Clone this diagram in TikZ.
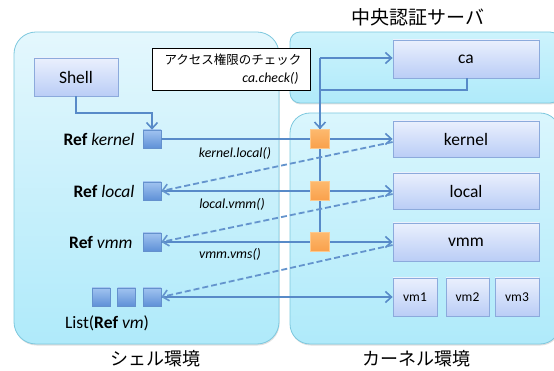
\documentclass[tikz,border=0pt]{standalone}
\usepackage{fontspec}
\setmainfont{Carlito}
\newfontfamily\jp{Noto Sans CJK JP}
\usetikzlibrary{arrows.meta,shadows,calc}
\definecolor{lineblue}{RGB}{88,138,200}
\definecolor{dashblue}{RGB}{100,148,205}
\definecolor{envborder}{RGB}{125,200,222}
\definecolor{boxborder}{RGB}{140,170,220}
\definecolor{sqborder}{RGB}{100,145,205}
\definecolor{envbot}{RGB}{175,234,250}
\definecolor{envtopA}{RGB}{228,247,253}
\definecolor{envtopB}{RGB}{205,243,252}
\definecolor{envtopC}{RGB}{218,246,253}
\definecolor{boxtop}{RGB}{234,240,253}
\definecolor{boxbot}{RGB}{186,205,246}
\definecolor{sqtop}{RGB}{160,195,240}
\definecolor{sqbot}{RGB}{95,145,215}
\definecolor{ortop}{RGB}{253,185,110}
\definecolor{orbot}{RGB}{249,160,75}
\definecolor{orborder}{RGB}{252,200,140}
\tikzset{
  env/.style={draw=envborder, line width=0.8pt, top color=#1, bottom color=envbot,
    drop shadow={shadow xshift=0.6pt, shadow yshift=-1.5pt, opacity=0.25}},
  objbox/.style={draw=boxborder, line width=0.8pt, top color=boxtop,
    bottom color=boxbot, minimum height=38pt, inner sep=0pt,
    font=\fontsize{17.5}{20}\selectfont,
    drop shadow={shadow xshift=0.6pt, shadow yshift=-1.2pt, opacity=0.25}},
  refsq/.style={draw=sqborder, line width=0.6pt, top color=sqtop,
    bottom color=sqbot, minimum size=18pt, inner sep=0pt},
  orsq/.style={draw=orborder, line width=0.6pt, top color=ortop,
    bottom color=orbot, minimum size=19pt, inner sep=0pt},
  conn/.style={draw=lineblue, line width=1.8pt},
  arr/.style={conn, -{Straight Barb[length=6pt,width=11pt,line width=1.6pt]}},
  darr/.style={draw=dashblue, line width=1.8pt, dash pattern=on 6pt off 3pt, -{Straight Barb[length=6pt,width=11pt,line width=1.6pt]}},
  reflabel/.style={anchor=east, font=\fontsize{17.5}{20}\selectfont},
  calllabel/.style={font=\fontsize{13.8}{16}\selectfont\itshape},
  envlabel/.style={font=\jp\fontsize{18}{20}\selectfont},
}
\begin{document}
\begin{tikzpicture}[x=1pt,y=-1pt]
\useasboundingbox (0,0) rectangle (554,371);
% environments
\path[env=envtopA, rounded corners=22pt] (14,32) rectangle (279,344);
\path[env=envtopB, rounded corners=10pt] (290,32) rectangle (560,103);
\path[env=envtopC, rounded corners=20pt] (290,113) rectangle (560,344);
\node[envlabel, font=\jp\fontsize{19}{21}\selectfont] (t1) at (418,17) {中央認証サーバ};
\node[envlabel] (t2) at (155,359) {シェル環境};
\node[envlabel] (t3) at (416,359) {カーネル環境};

% objects
\node[objbox, minimum width=84pt] (shell) at (76,77) {Shell};
\node[objbox, minimum width=146pt] (ca) at (466,59) {ca};
\node[objbox, minimum width=146pt, minimum height=36pt] (kernel) at (466,139) {kernel};
\node[objbox, minimum width=146pt, minimum height=36pt] (local) at (466,191) {local};
\node[objbox, minimum width=146pt] (vmm) at (466,242) {vmm};
\node[objbox, minimum width=44pt, font=\fontsize{13.5}{15}\selectfont] (vm1) at (415,297) {vm1};
\node[objbox, minimum width=43pt, font=\fontsize{13.5}{15}\selectfont] (vm2) at (467.5,297) {vm2};
\node[objbox, minimum width=44pt, font=\fontsize{13.5}{15}\selectfont] (vm3) at (517,297) {vm3};

% refs
\node[refsq] (rk) at (152,139) {};
\node[refsq] (rl) at (152,191) {};
\node[refsq] (rv) at (152,242) {};
\node[refsq] (l1) at (101,297) {};
\node[refsq] (l2) at (126.5,297) {};
\node[refsq] (l3) at (152,297) {};
\node[reflabel] (lk) at (138,139) {\textbf{Ref} \textit{kernel}};
\node[reflabel] (ll) at (138,191) {\textbf{Ref} \textit{local}};
\node[reflabel] (lv) at (136,242) {\textbf{Ref} \textit{vmm}};
\node[font=\fontsize{17.5}{20}\selectfont] (lvm) at (107,323) {List(\textbf{Ref} \textit{vm})};

% callout
\node[draw=black, line width=0.7pt, fill=white, minimum width=158pt, minimum height=42pt, inner sep=0pt,
  drop shadow={shadow xshift=1pt, shadow yshift=-1.5pt, opacity=0.3}] (call) at (231,69) {};
\node[anchor=east, font=\jp\fontsize{12.5}{14}\selectfont] (callt1) at (305,60) {アクセス権限のチェック};
\node[anchor=east, calllabel] (callt2) at (302,78) {ca.check()};

% coordinates
\coordinate (top) at (320,58);
\coordinate (ret) at (320,90);
\coordinate (cab) at (467,90);

% connectors behind the orange squares
\draw[arr] (rk.east) -- (kernel.west |- rk.east);
\draw[arr] (rl.east) -- (local.west |- rl.east);
\draw[arr] (rv.east) -- (vmm.west |- rv.east);
\draw[arr] (l3.east) -- (vm1.west |- l3.east);
\draw[conn] (ret) -- (320,242);
\draw[conn] (ret) -- (top);
\draw[arr] (top) -- (ca.west |- top);
\draw[conn] (ca.south -| cab) -- (cab) -- (ret);
\draw[darr] ($(kernel.west)+(0,3)$) -- (rl.east);
\draw[darr] ($(local.west)+(0,3)$) -- (rv.east);
\draw[darr] ($(vmm.west)+(0,3)$) -- (l3.east);
\draw[arr] (shell.south) |- (152,113) -- (rk.north);

% orange squares
\node[orsq] (ok) at (320,139) {};
\node[orsq] (ol) at (320,191) {};
\node[orsq] (ov) at (320,242) {};
\draw[arr] (ret) -- (ok.north);

% call labels
\node[calllabel] (c1) at (235,153) {kernel.local()};
\node[calllabel] (c2) at (232,204) {local.vmm()};
\node[calllabel] (c3) at (230,254) {vmm.vms()};
\end{tikzpicture}
\end{document}
